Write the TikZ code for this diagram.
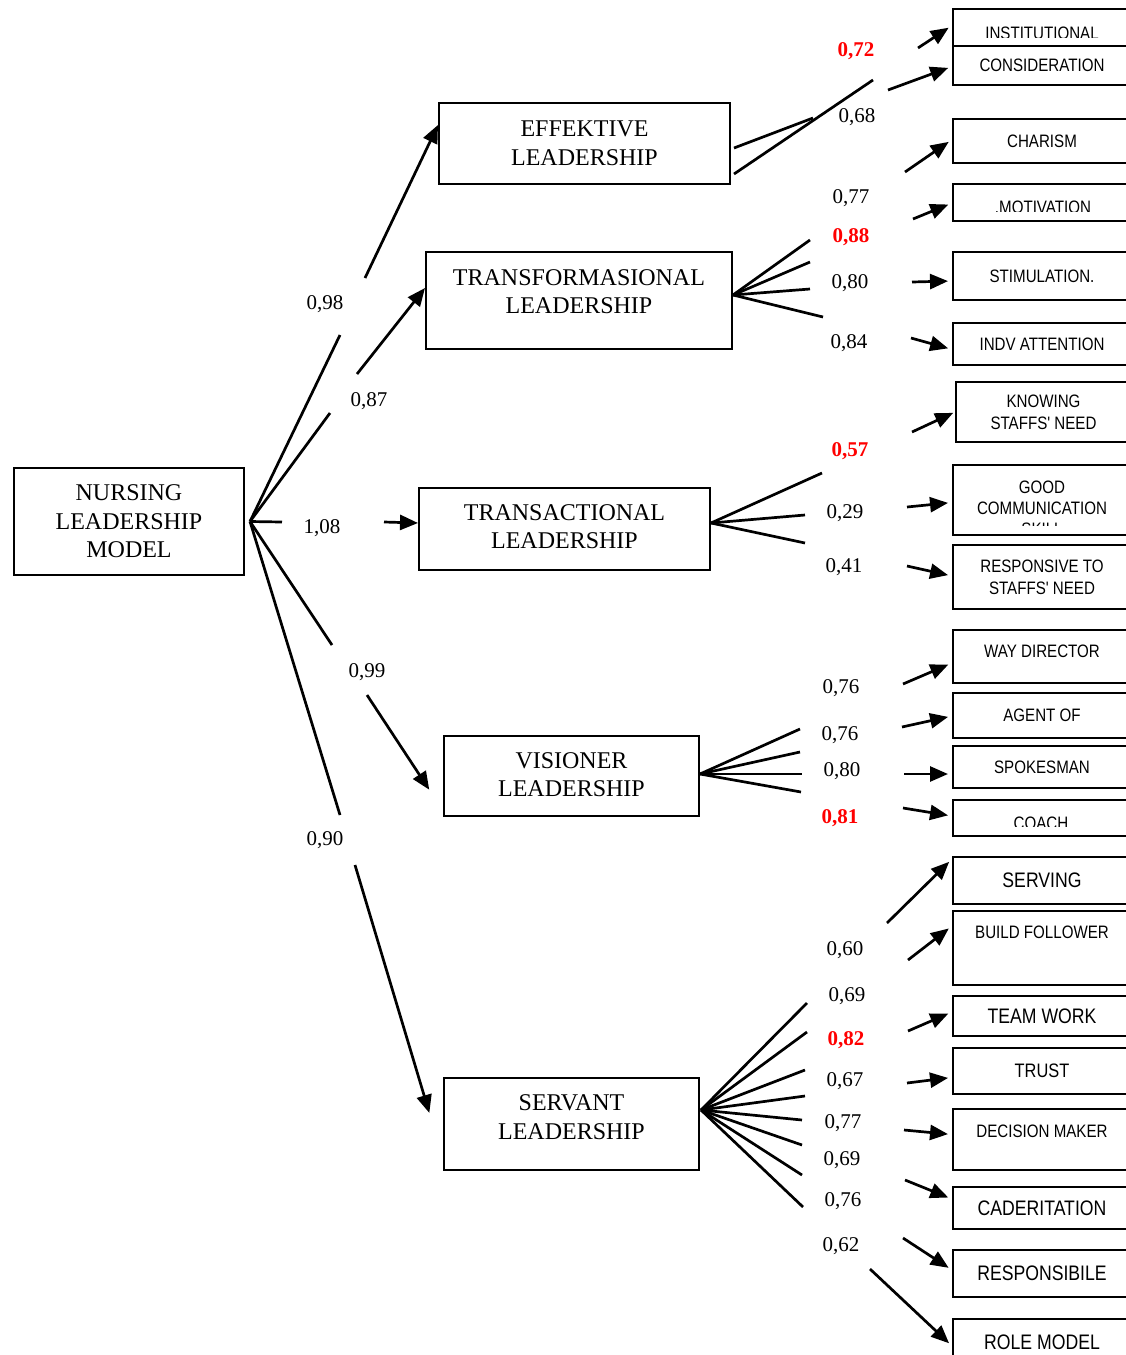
\documentclass[tikz,border=0pt]{standalone}
\usepackage{fontspec}
\setmainfont{Liberation Serif}
\newfontfamily\rfont[FakeStretch=0.84]{Liberation Sans}
\usetikzlibrary{arrows.meta}
\begin{document}
\begin{tikzpicture}[x=1pt,y=-1pt,
 mbox/.style={draw,line width=2pt,inner sep=0pt,align=center,font=\fontsize{24}{28.5}\selectfont},
 rbox/.style={draw,line width=2pt,inner sep=0pt,align=center,minimum width=178pt,font=\rfont\fontsize{18}{22}\selectfont},
 rbig/.style={rbox,font=\rfont\fontsize{21}{25}\selectfont},
 rtext/.style={inner sep=0pt,align=center,font=\rfont\fontsize{18}{21}\selectfont},
 lbl/.style={inner sep=0pt,font=\fontsize{21}{24}\selectfont,text height=14pt,text depth=0pt},
 rlbl/.style={lbl,text=red,font=\fontsize{21}{24}\selectfont\bfseries},
 conn/.style={line width=2.7pt},
 arr/.style={conn,-{Triangle[length=18pt,width=15pt]},shorten >=4pt}
]
\useasboundingbox (0,0) rectangle (1126,1355);
\clip (0,0) rectangle (1126,1355);
\fill[white] (0,0) rectangle (1126,1355);

% ---------- main boxes ----------
\node[mbox,minimum width=230pt,minimum height=107pt] (nurs) at (129,521.5) {NURSING\\LEADERSHIP\\MODEL};
\node[mbox,minimum width=291pt,minimum height=81pt] (eff) at (584.5,143.5) {EFFEKTIVE\\LEADERSHIP};
\node[mbox,minimum width=306pt,minimum height=97pt,text depth=18pt] (tra) at (579,300.5) {TRANSFORMASIONAL\\LEADERSHIP};
\node[mbox,minimum width=291pt,minimum height=82pt,text depth=5pt] (tac) at (564.5,529) {TRANSACTIONAL\\LEADERSHIP};
\node[mbox,minimum width=255pt,minimum height=80pt,text depth=3pt] (vis) at (571.5,776) {VISIONER\\LEADERSHIP};
\node[mbox,minimum width=255pt,minimum height=92pt,text depth=14pt] (ser) at (571.5,1124) {SERVANT\\LEADERSHIP};

% ---------- indicator boxes ----------
\node[rbox,minimum height=37pt] (inst) at (1042,27.5) {};
\begin{scope}\clip (953,9) rectangle (1126,37);
\node[rtext] (instt) at (1042,33.5) {INSTITUTIONAL};
\end{scope}
\node[rbox,minimum height=39pt] (cons) at (1042,65.5) {CONSIDERATION};
\node[rbox,minimum height=44pt] (char) at (1042,141) {CHARISM};
\node[rbox,minimum height=37pt] (motv) at (1042,202.5) {};
\begin{scope}\clip (953,185) rectangle (1126,211);
\node[rtext] (motvt) at (1043,207.5) {.MOTIVATION};
\end{scope}
\node[rbox,minimum height=48pt] (stim) at (1042,276) {STIMULATION.};
\node[rbox,minimum height=42pt] (indv) at (1042,344) {INDV ATTENTION};
\node[rbox,minimum height=60pt,minimum width=175pt] (know) at (1043.5,412) {KNOWING\\STAFFS' NEED};
\node[rbox,minimum height=70pt] (good) at (1042,500) {};
\begin{scope}\clip (953,466) rectangle (1126,525);
\node[rtext] (goodt) at (1042,508) {GOOD\\COMMUNICATION\\SKILL};
\end{scope}
\node[rbox,minimum height=64pt] (resp) at (1042,577) {RESPONSIVE TO\\STAFFS' NEED};
\node[rbox,minimum height=53pt,text depth=10pt] (way) at (1042,656.5) {WAY DIRECTOR};
\node[rbox,minimum height=45pt] (agent) at (1042,715.5) {AGENT OF};
\node[rbox,minimum height=42pt] (spok) at (1042,767) {SPOKESMAN};
\node[rbox,minimum height=36pt] (coach) at (1042,818) {};
\begin{scope}\clip (953,801) rectangle (1126,826);
\node[rtext] (coacht) at (1041,823.5) {COACH};
\end{scope}
\node[rbig,minimum height=47pt] (serv) at (1042,880.5) {SERVING};
\node[rbox,minimum height=74pt,text depth=32pt] (build) at (1042,948) {BUILD FOLLOWER};
\node[rbig,minimum height=40pt] (team) at (1042,1016) {TEAM WORK};
\node[rbox,minimum height=46pt,font=\rfont\fontsize{19.5}{23}\selectfont] (trust) at (1042,1071) {TRUST};
\node[rbox,minimum height=61pt,text depth=16pt] (dec) at (1042,1139.5) {DECISION MAKER};
\node[rbig,minimum height=42pt] (cad) at (1042,1208) {CADERITATION};
\node[rbig,minimum height=47pt] (respb) at (1042,1273.5) {RESPONSIBILE};
\node[rbig,minimum height=52pt,text depth=5pt] (role) at (1042,1345) {ROLE MODEL};

% ---------- main connectors (broken around labels) ----------
\coordinate (g98a) at (340,335);  \coordinate (g98b) at (365,278);
\coordinate (g87a) at (330,413);  \coordinate (g87b) at (357,374);
\coordinate (g108a) at (282,522); \coordinate (g108b) at (384,522);
\coordinate (g99a) at (332,645);  \coordinate (g99b) at (367,695);
\coordinate (g90a) at (340,815);  \coordinate (g90b) at (355,865);

\draw[conn] ([xshift=5pt]nurs.east) -- (g98a);
\draw[arr,shorten >=0pt] (g98b) -- ([yshift=18.5pt]eff.west);
\draw[conn] ([xshift=5pt]nurs.east) -- (g87a);
\draw[arr,shorten >=0pt] (g87b) -- ([yshift=12.5pt]tra.west);
\draw[conn] ([xshift=5pt]nurs.east) -- (g108a);
\draw[arr,shorten >=0pt] (g108b) -- ([yshift=6pt]tac.west);
\draw[conn] ([xshift=5pt]nurs.east) -- (g99a);
\draw[arr,shorten >=25pt] (g99b) -- ([yshift=-34.6pt]vis.west);
\draw[conn] ([xshift=5pt]nurs.east) -- (g90a);
\draw[arr,shorten >=47.6pt] (g90b) -- ([yshift=-34.5pt]ser.west);

% ---------- fan ends and arrow starts ----------
\coordinate (fInst) at (873,80);    \coordinate (sInst) at (918,48);
\coordinate (fCons) at (813,118);   \coordinate (sCons) at (888,90);
\coordinate (fChar) at (810,240);   \coordinate (sChar) at (905,172);
\coordinate (fMotv) at (810,262);   \coordinate (sMotv) at (913,219);
\coordinate (fStim) at (810,289);   \coordinate (sStim) at (912,282);
\coordinate (fIndv) at (823,317);   \coordinate (sIndv) at (911,338);
\coordinate (fKnow) at (822,473);   \coordinate (sKnow) at (912,432);
\coordinate (fGood) at (805,515);   \coordinate (sGood) at (907,507);
\coordinate (fResp) at (805,543);   \coordinate (sResp) at (907,566);
\coordinate (fWay) at (800,729);    \coordinate (sWay) at (903,684);
\coordinate (fAgent) at (800,752);  \coordinate (sAgent) at (902,727);
\coordinate (fSpok) at (802,774);   \coordinate (sSpok) at (904,774);
\coordinate (fCoach) at (801,792);  \coordinate (sCoach) at (903,808);
\coordinate (fServ) at (807,1003);  \coordinate (sServ) at (887,923);
\coordinate (fBuild) at (807,1032); \coordinate (sBuild) at (908,960);
\coordinate (fTeam) at (805,1070);  \coordinate (sTeam) at (908,1031);
\coordinate (fTrust) at (805,1096); \coordinate (sTrust) at (907,1083);
\coordinate (fDec) at (802,1120);   \coordinate (sDec) at (904,1130);
\coordinate (fCad) at (802,1145);   \coordinate (sCad) at (905,1180);
\coordinate (fRespb) at (802,1175); \coordinate (sRespb) at (903,1238);
\coordinate (fRole) at (803,1207);  \coordinate (sRole) at (870,1269);

% fans
\draw[conn] ([xshift=3pt,yshift=-30.5pt]eff.east) -- (fInst);
\draw[conn] ([xshift=3pt,yshift=-4.5pt]eff.east) -- (fCons);
\foreach \c in {fChar,fMotv,fStim,fIndv} \draw[conn] ([yshift=5.5pt]tra.east) -- (\c);
\foreach \c in {fKnow,fGood,fResp} \draw[conn] ([yshift=6pt]tac.east) -- (\c);
\foreach \c in {fWay,fAgent,fSpok,fCoach} \draw[conn] ([yshift=2pt]vis.east) -- (\c);
\foreach \c in {fServ,fBuild,fTeam,fTrust,fDec,fCad,fRespb,fRole} \draw[conn] ([xshift=1pt,yshift=14pt]ser.east) -- (\c);

% arrows into indicators
\draw[arr] (sInst) -- ([yshift=2pt]inst.west);
\draw[arr] (sCons) -- ([yshift=-1pt]cons.west);
\draw[arr] (sChar) -- ([yshift=1.4pt]char.west);
\draw[arr] (sMotv) -- ([yshift=-0.5pt]motv.west);
\draw[arr] (sStim) -- ([yshift=-5pt]stim.west);
\draw[arr] (sIndv) -- ([yshift=-5.4pt]indv.west);
\draw[arr,shorten >=2pt] (sKnow) -- (know.west);
\draw[arr] (sGood) -- ([yshift=-2.5pt]good.west);
\draw[arr] (sResp) -- ([yshift=1pt]resp.west);
\draw[arr] (sWay) -- ([yshift=-6.5pt]way.west);
\draw[arr] (sAgent) -- ([yshift=-0.5pt]agent.west);
\draw[arr] (sSpok) -- ([yshift=-7pt]spok.west);
\draw[arr] (sCoach) -- ([yshift=2pt]coach.west);
\draw[arr] (sServ) -- ([yshift=21.5pt]serv.west);
\draw[arr] (sBuild) -- ([yshift=22pt]build.west);
\draw[arr] (sTeam) -- ([yshift=4pt]team.west);
\draw[arr] (sTrust) -- ([yshift=-6.4pt]trust.west);
\draw[arr] (sDec) -- ([yshift=5pt]dec.west);
\draw[arr] (sCad) -- ([yshift=9pt]cad.west);
\draw[arr] (sRespb) -- ([yshift=3.5pt]respb.west);
\draw[arr] (sRole) -- ([yshift=-1pt]role.west);

% ---------- labels ----------
\node[lbl] (l98) at (325,302) {0,98};
\node[lbl] (l87) at (369,399) {0,87};
\node[lbl] (l108) at (322,526) {1,08};
\node[lbl] (l99) at (367,670) {0,99};
\node[lbl] (l90) at (325,838) {0,90};

\node[rlbl] (l72) at (856,49) {0,72};
\node[lbl] (l68) at (857,115) {0,68};
\node[lbl] (l77) at (851,196) {0,77};
\node[rlbl] (l88) at (851,235) {0,88};
\node[lbl] (l80) at (850,281) {0,80};
\node[lbl] (l84) at (849,341) {0,84};
\node[rlbl] (l57) at (850,449) {0,57};
\node[lbl] (l29) at (845,511) {0,29};
\node[lbl] (l41) at (844,565) {0,41};
\node[lbl] (lv1) at (841,686) {0,76};
\node[lbl] (lv2) at (840,733) {0,76};
\node[lbl] (lv3) at (842,769) {0,80};
\node[rlbl] (lv4) at (840,816) {0,81};
\node[lbl] (ls1) at (845,948) {0,60};
\node[lbl] (ls2) at (847,994) {0,69};
\node[rlbl] (ls3) at (846,1038) {0,82};
\node[lbl] (ls4) at (845,1079) {0,67};
\node[lbl] (ls5) at (843,1121) {0,77};
\node[lbl] (ls6) at (842,1158) {0,69};
\node[lbl] (ls7) at (843,1199) {0,76};
\node[lbl] (ls8) at (841,1244) {0,62};
\end{tikzpicture}
\end{document}
